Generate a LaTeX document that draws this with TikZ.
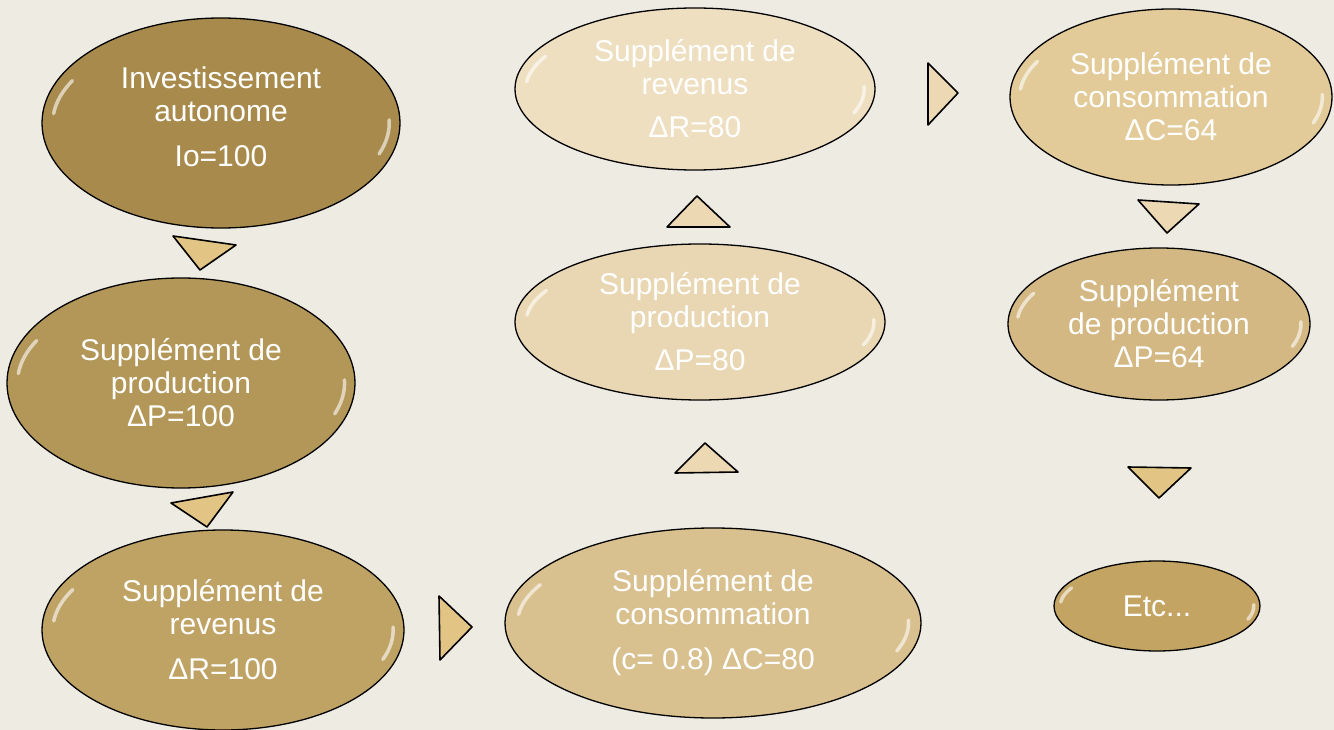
\documentclass[tikz,border=0pt]{standalone}
\usepackage{fontspec}
\setmainfont{Liberation Sans}
\usetikzlibrary{shapes.geometric,calc}

\definecolor{fond}{HTML}{EEEBE3}
\definecolor{or1}{HTML}{A88B4C}
\definecolor{or2}{HTML}{B39758}
\definecolor{or3}{HTML}{BFA365}
\definecolor{or4}{HTML}{D9C08F}
\definecolor{or5}{HTML}{E9D7B3}
\definecolor{or6}{HTML}{EFDFC1}
\definecolor{or7}{HTML}{E3CB99}
\definecolor{or8}{HTML}{D4B883}
\definecolor{or9}{HTML}{C4A462}
\definecolor{triFonce}{HTML}{E2C484}
\definecolor{triClair}{HTML}{ECD8B2}

\begin{document}
\begin{tikzpicture}[
  x=1pt, y=-1pt,
  gloss/.style={path picture={
    \foreach \a in {152,-20}
      \draw[white, opacity=.6, line width=3.5pt, line cap=round]
        let \p1=(path picture bounding box.center),
            \p2=(path picture bounding box.north east),
            \n1={0.94*abs(\x2-\x1)}, \n2={0.86*abs(\y2-\y1)} in
        ([shift={(\a:{\n1*1pt} and {\n2*1pt})}]\p1)
        arc[start angle=\a, end angle=\a+22, x radius=\n1*1pt, y radius=\n2*1pt];
  }},
  bulle/.style={ellipse, draw=black, line width=1.3pt, inner sep=0pt,
    text=white, align=center, font=\fontsize{30}{33}\selectfont, gloss},
  fleche/.style={draw=black, fill=#1, line width=1.6pt, line join=round},
  fleche/.default=triFonce
]
  \useasboundingbox[fill=fond] (0,0) rectangle (1334,730);

  % colonne de gauche
  \node[bulle, fill=or1, minimum width=358, minimum height=210] (io) at (221,123)
    {Investissement\\autonome\\[12pt]Io=100\\[-21pt]};
  \node[bulle, fill=or2, minimum width=348, minimum height=210] (prod1) at (181,383)
    {Supplément de\\production\\ΔP=100};
  \node[bulle, fill=or3, minimum width=362, minimum height=200] (rev1) at (223,630)
    {Supplément de\\revenus\\[12pt]ΔR=100};

  % colonne du milieu
  \node[bulle, fill=or4, minimum width=416, minimum height=190] (conso1) at (713,623)
    {Supplément de\\consommation\\[12pt](c= 0.8) ΔC=80};
  \node[bulle, fill=or5, minimum width=370, minimum height=156] (prod2) at (700,322)
    {Supplément de\\production\\[10pt]ΔP=80};
  \node[bulle, fill=or6, minimum width=360, minimum height=162] (rev2) at (695,89)
    {Supplément de\\revenus\\[10pt]ΔR=80};

  % colonne de droite
  \node[bulle, fill=or7, minimum width=322, minimum height=176] (conso2) at (1171,97)
    {Supplément de\\consommation\\ΔC=64};
  \node[bulle, fill=or8, minimum width=302, minimum height=152] (prod3) at (1159,324)
    {Supplément\\de production\\ΔP=64};
  \node[bulle, fill=or9, minimum width=206, minimum height=90] (etc) at (1157,606)
    {Etc...};

  % fleches
  \filldraw[fleche] (173,236) -- (236,245) -- (200,270) -- cycle;
  \filldraw[fleche] (171,503) -- (233,492) -- (207,527) -- cycle;
  \filldraw[fleche] (439,596) -- (440,660) -- (472,627) -- cycle;
  \filldraw[fleche=triClair] (675,473) -- (738,472) -- (705,443) -- cycle;
  \filldraw[fleche=triClair] (667,227) -- (730,227) -- (697,196) -- cycle;
  \filldraw[fleche=triClair] (928,63) -- (928,125) -- (958,93) -- cycle;
  \filldraw[fleche=triClair] (1138,200) -- (1199,204) -- (1167,233) -- cycle;
  \filldraw[fleche] (1128,467) -- (1191,468) -- (1159,498) -- cycle;
\end{tikzpicture}
\end{document}
